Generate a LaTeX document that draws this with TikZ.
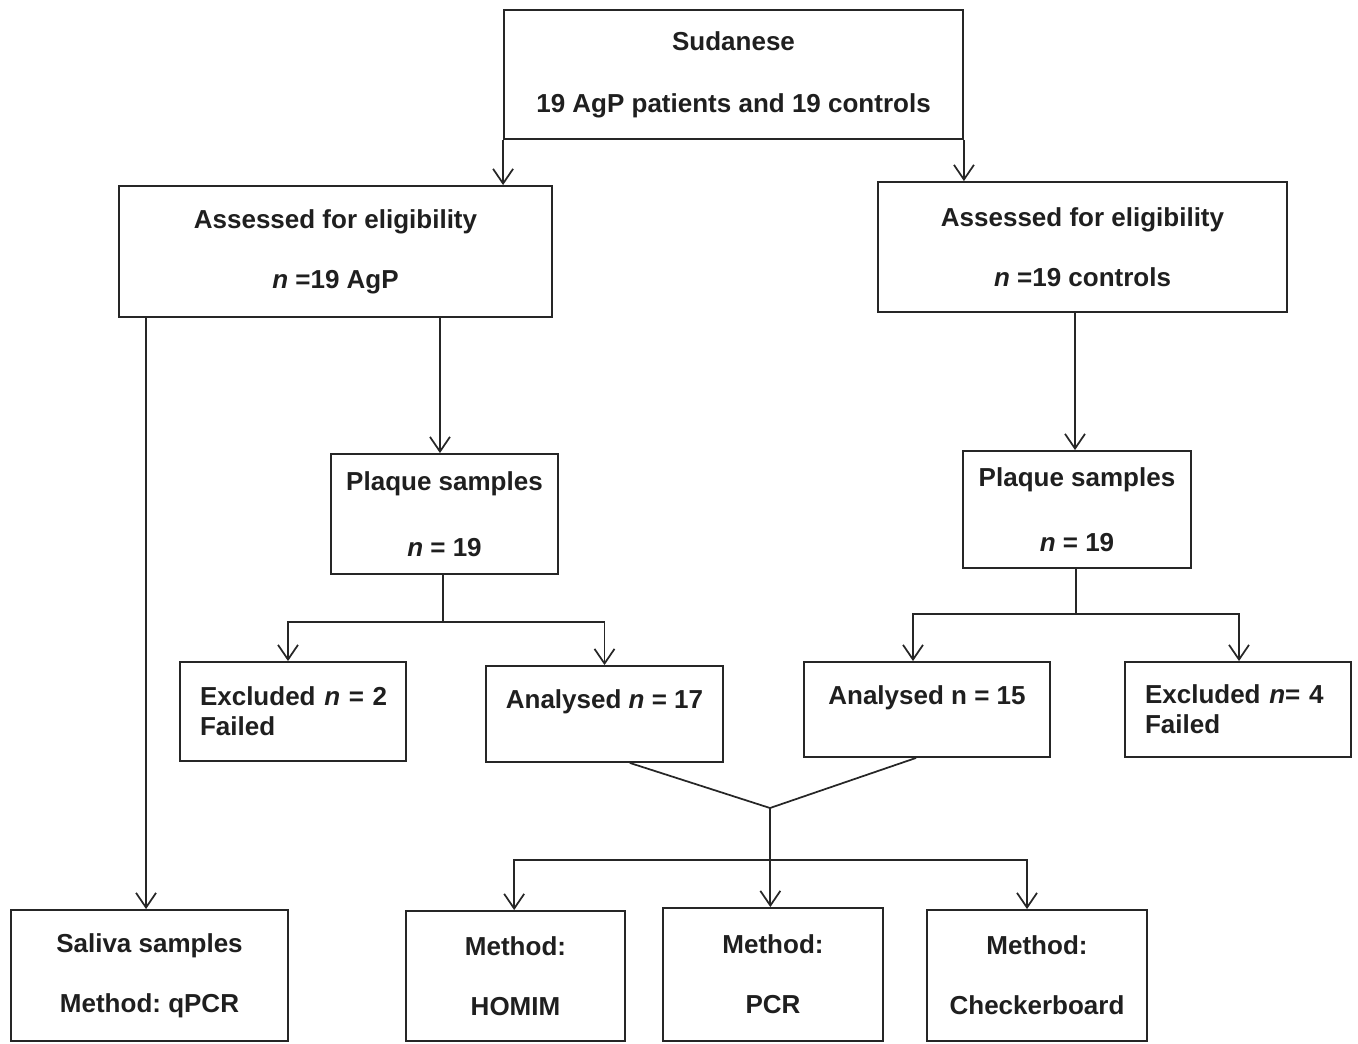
\documentclass[tikz,border=0pt]{standalone}
\usepackage{fontspec}
\setmainfont{Liberation Sans}
\usetikzlibrary{arrows.meta}
\tikzset{
  box/.style={draw=black!85, line width=1.4pt, rectangle, inner sep=0pt, align=center,
    font=\fontsize{19.5}{22.5}\selectfont\bfseries\frenchspacing, text=black!88},
  lbox/.style={box, inner xsep=15pt, align=left},
  conn/.style={draw=black!85, line width=1.3pt},
  arr/.style={conn, -{Straight Barb[length=11pt,width=15pt,line width=1.3pt]}}
}
\begin{document}
\begin{tikzpicture}[x=0.75pt,y=-0.75pt]
\useasboundingbox (0,0) rectangle (1358,1043);
\node[box, minimum width=344.25pt, minimum height=96.75pt] (top) at (733.5,74.5)
  {Sudanese\\[24pt]19 AgP patients and 19 controls};
\node[box, minimum width=324.75pt, minimum height=98.25pt] (la) at (335.5,251.5)
  {Assessed for eligibility\\[22.5pt]\textit{n} =19 AgP};
\node[box, minimum width=306.75pt, minimum height=97.5pt] (ra) at (1082.5,247)
  {Assessed for eligibility\\[22.5pt]\textit{n} =19 controls};
\node[box, minimum width=170.25pt, minimum height=90pt] (pl) at (444.5,514)
  {Plaque samples\\[27pt]\textit{n} = 19};
\node[box, minimum width=171pt, minimum height=87.75pt] (pr) at (1077,509.5)
  {Plaque samples\\[26.25pt]\textit{n} = 19};
\node[lbox, text width=139.5pt, minimum height=74.25pt] (el) at (293,711.5)
  {\mbox{Excluded \textit{n} = 2}\\Failed};
\node[box, minimum width=177.75pt, minimum height=72pt] (a17) at (604.5,714)
  {Analysed \textit{n} = 17\\[-7pt]\strut};
\node[box, minimum width=184.5pt, minimum height=71.25pt] (a15) at (927,709.5)
  {Analysed n = 15\\[-7pt]\strut};
\node[lbox, text width=139.5pt, minimum height=71.25pt] (er) at (1238,709.5)
  {\mbox{Excluded \textit{n}= 4}\\Failed};
\node[box, minimum width=207.75pt, minimum height=98.25pt] (sal) at (149.5,975.5)
  {Saliva samples\\[22.5pt]Method: qPCR};
\node[box, minimum width=164.25pt, minimum height=97.5pt] (hom) at (515.5,976)
  {Method:\\[22.5pt]HOMIM};
\node[box, minimum width=165pt, minimum height=99.75pt] (pcr) at (773,974.5)
  {Method:\\[22.5pt]PCR};
\node[box, minimum width=165pt, minimum height=98.25pt] (chk) at (1037,975.5)
  {Method:\\[22.5pt]Checkerboard};
% top splits
\draw[arr] (top.south west) -- (top.south west |- la.north);
\draw[arr] (top.south east) -- (top.south east |- ra.north);
% left column
\draw[arr] ([xshift=-2.6pt]sal.north |- la.south) -- ([xshift=-2.6pt]sal.north);
\draw[arr] ([xshift=-3.4pt]pl.north |- la.south) -- ([xshift=-3.4pt]pl.north);
\draw[arr] ([xshift=-1.5pt]pr.north |- ra.south) -- ([xshift=-1.5pt]pr.north);
% left plaque split
\coordinate (jl) at (443,622);
\draw[conn] (pl.south -| jl) -- (jl);
\draw[arr] (jl) -| ([xshift=-3.75pt]el.north);
\draw[arr] (jl) -| (a17.north);
% right plaque split
\coordinate (jr) at (1076,614);
\draw[conn] (pr.south -| jr) -- (jr);
\draw[arr] (jr) -| ([xshift=-10.5pt]a15.north);
\draw[arr] (jr) -| ([xshift=0.75pt]er.north);
% merge
\coordinate (v) at (770,808);
\coordinate (h) at (770,860);
\draw[conn] ([xshift=19pt]a17.south) -- (v) -- ([xshift=-8.25pt]a15.south);
\draw[conn] (v) -- (h);
\draw[arr] (h) -| ([xshift=-1pt]hom.north);
\draw[arr] (h) -| ([xshift=-2pt]pcr.north);
\draw[arr] (h) -| ([xshift=-7.5pt]chk.north);
\end{tikzpicture}
\end{document}
